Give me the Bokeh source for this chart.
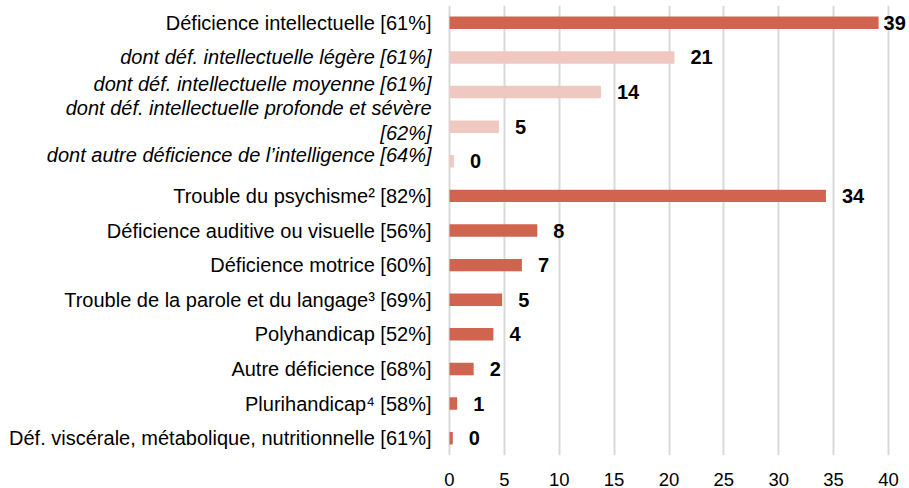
from bokeh.plotting import figure
from bokeh.models import ColumnDataSource, FactorRange, Range1d, FixedTicker
from bokeh.core.properties import value
from bokeh.embed import file_html
from bokeh.resources import INLINE

# ---- data (top to bottom) ----
categories = [
    "Déficience intellectuelle [61%]",
    "dont déf. intellectuelle légère [61%]",
    "dont déf. intellectuelle moyenne [61%]",
    "dont déf. intellectuelle profonde et sévère\n[62%]",
    "dont autre déficience de l’intelligence [64%]",
    "Trouble du psychisme² [82%]",
    "Déficience auditive ou visuelle [56%]",
    "Déficience motrice [60%]",
    "Trouble de la parole et du langage³ [69%]",
    "Polyhandicap [52%]",
    "Autre déficience [68%]",
    "Plurihandicap⁴ [58%]",
    "Déf. viscérale, métabolique, nutritionnelle [61%]",
]
values = [39.1, 20.5, 13.8, 4.5, 0.4, 34.3, 8.0, 6.6, 4.8, 4.0, 2.2, 0.7, 0.3]
value_labels = ["39", "21", "14", "5", "0", "34", "8", "7", "5", "4", "2", "1", "0"]
is_sub = [False, True, True, True, True, False, False, False, False, False, False, False, False]
x_ticks = [0, 5, 10, 15, 20, 25, 30, 35, 40]

# ---- style ----
W, H = 909, 488
DARK = "#D0644E"
LIGHT = "#EFC9C1"
FONT = "Liberation Sans"
ZERO_PX = 449          # pixel where the value 0 sits
PX_PER_UNIT = 10.975   # horizontal scale
x_start = -ZERO_PX / PX_PER_UNIT
x_end = (W - ZERO_PX) / PX_PER_UNIT

colors = [LIGHT if s else DARK for s in is_sub]
styles = ["italic" if s else "normal" for s in is_sub]
val_off = [16 if v < 38 else 5 for v in values]
# Excel nudged the crowded italic labels upward a little
sub_nudge = {1: 0, 2: -8.5, 3: -6.5, 4: -6}
cat_dy = [sub_nudge.get(i, 0) for i in range(len(categories))]

src = ColumnDataSource(dict(cat=categories, val=values, lab=value_labels, color=colors,
                            style=styles, off=val_off, dy=cat_dy,
                            zero=[0] * len(categories)))

p = figure(width=W, height=H, output_backend="svg", toolbar_location=None,
           y_range=FactorRange(factors=list(reversed(categories)), range_padding=0),
           x_range=Range1d(x_start, x_end))
p.min_border_left = 0
p.min_border_right = 0
p.min_border_top = 5
p.min_border_bottom = 0
p.outline_line_color = None
p.background_fill_color = "white"
p.border_fill_color = "white"

p.xgrid.ticker = FixedTicker(ticks=x_ticks)
p.xgrid.grid_line_color = "#D9D9D9"
p.xgrid.grid_line_width = 2
p.ygrid.grid_line_color = None

p.hbar(y="cat", left=0, right="val", height=0.36, fill_color="color",
       line_color=None, source=src)

# value labels
p.text(x="val", y="cat", text="lab", x_offset="off", source=src,
       text_font=value(FONT), text_font_size="20px", text_font_style="bold",
       text_align="left", text_baseline="middle", text_color="#000000")

# category labels (normal + italic sub-categories)
p.text(x="zero", y="cat", text="cat", x_offset=-18, y_offset="dy", source=src,
       text_font=value(FONT), text_font_size="20px", text_font_style="style",
       text_align="right", text_baseline="middle", text_color="#000000",
       text_line_height=1.15)

# axes
p.yaxis.visible = False
p.xaxis.ticker = FixedTicker(ticks=x_ticks)
p.xaxis.axis_line_color = None
p.xaxis.major_tick_line_color = None
p.xaxis.minor_tick_line_color = None
p.xaxis.major_label_text_font = FONT
p.xaxis.major_label_text_font_size = "18.5px"
p.xaxis.major_label_text_color = "#000000"
p.xaxis.major_label_standoff = 11

open("out.html", "w").write(file_html(p, INLINE))
